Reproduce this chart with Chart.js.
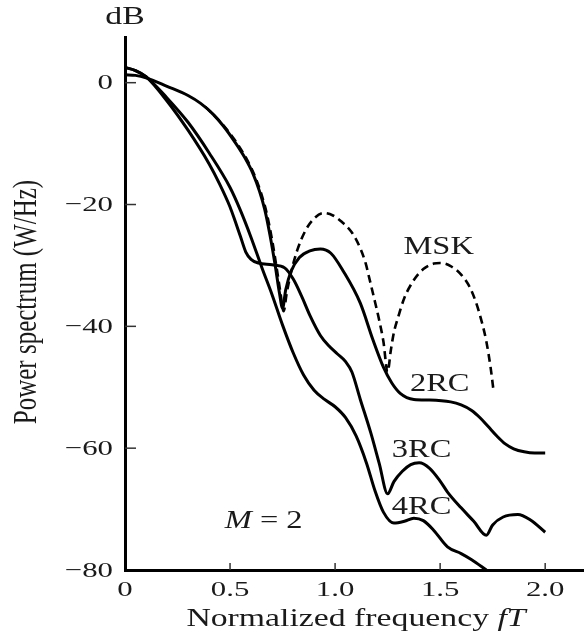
<!DOCTYPE html>
<html>
<head>
<meta charset="utf-8">
<script src="https://cdn.jsdelivr.net/npm/chart.js@4/dist/chart.umd.min.js"></script>
<style>
  html, body { margin: 0; padding: 0; background: #fff; }
  #wrap { width: 584px; height: 635px; }
</style>
</head>
<body>
<div id="wrap"><canvas id="c" width="584" height="635"></canvas></div>
<script>
// ---------- data ----------
const xTickValues = [0, 0.5, 1.0, 1.5, 2.0];
const xTickLabels = ["0", "0.5", "1.0", "1.5", "2.0"];
const yTickValues = [0, -20, -40, -60, -80];
const yTickLabels = ["0", "\u221220", "\u221240", "\u221260", "\u221280"];

const mskX = [0.38, 0.45, 0.52, 0.58, 0.62, 0.65, 0.675, 0.70, 0.72, 0.74, 0.755, 0.77, 0.79, 0.82, 0.86, 0.90, 0.945, 0.99, 1.03, 1.08, 1.12, 1.145, 1.165, 1.19, 1.21, 1.23, 1.25,
              1.265, 1.28, 1.30, 1.33, 1.375, 1.42, 1.47, 1.50, 1.55, 1.60, 1.64, 1.67, 1.70, 1.72, 1.74, 1.755];
const mskY = [-3.9, -6.3, -9.3, -12.6, -15.5, -18.4, -21.5, -25.8, -30.0, -34.5, -37.5, -34.5, -31.2, -27.5, -24.2, -22.3, -21.4, -21.8, -22.8, -24.6, -27.2, -29.6, -32.4, -36.0, -39.0, -42.5, -47.5,
              -44.0, -41.0, -38.5, -35.3, -32.4, -30.6, -29.7, -29.6, -30.1, -31.5, -33.5, -36.0, -39.5, -42.5, -46.7, -50.8];

const rc2X = [0, 0.05, 0.10, 0.20, 0.30, 0.36, 0.42, 0.47, 0.52, 0.57, 0.61, 0.64, 0.665, 0.69, 0.715, 0.735, 0.75, 0.765, 0.79, 0.83, 0.88, 0.93, 0.98, 1.04, 1.12, 1.18, 1.23, 1.27, 1.31, 1.375, 1.45, 1.55, 1.60, 1.65, 1.69, 1.73, 1.77, 1.81, 1.85, 1.90, 1.95, 2.00];
const rc2Y = [1.3, 1.2, 0.8, -0.6, -2.1, -3.4, -5.2, -7.2, -9.6, -12.3, -15.0, -17.8, -20.8, -25.0, -30.0, -34.5, -37.0, -34.0, -31.0, -28.7, -27.6, -27.3, -28.0, -31.0, -36.2, -42.2, -46.7, -49.3, -51.0, -52.0, -52.1, -52.4, -52.9, -53.8, -55.0, -56.5, -58.0, -59.3, -60.1, -60.6, -60.8, -60.8];

const rc3X = [0, 0.05, 0.10, 0.20, 0.30, 0.40, 0.45, 0.50, 0.525, 0.55, 0.575, 0.60, 0.635, 0.70, 0.76, 0.80, 0.84, 0.88, 0.93, 0.97, 1.01, 1.05, 1.08, 1.12, 1.17, 1.21, 1.25, 1.28, 1.32, 1.36, 1.40, 1.45, 1.50, 1.535, 1.60, 1.66, 1.72, 1.75, 1.80, 1.87, 1.93, 2.00];
const rc3Y = [2.5, 2.0, 1.0, -3.0, -7.8, -13.3, -16.6, -20.4, -22.8, -25.3, -27.8, -29.0, -29.6, -29.9, -30.4, -32.2, -35.0, -38.2, -41.5, -43.2, -44.5, -45.8, -47.5, -52.0, -57.5, -62.5, -67.5, -65.5, -63.8, -62.7, -62.4, -63.3, -65.4, -67.2, -69.8, -72.0, -74.3, -72.6, -71.3, -70.9, -71.8, -73.8];

const rc4X = [0, 0.05, 0.10, 0.20, 0.30, 0.40, 0.50, 0.55, 0.60, 0.653, 0.70, 0.75, 0.80, 0.85, 0.90, 0.95, 1.00, 1.05, 1.10, 1.15, 1.19, 1.23, 1.28, 1.33, 1.375, 1.42, 1.47, 1.535, 1.60, 1.65, 1.72];
const rc4Y = [2.5, 2.0, 1.0, -2.5, -6.5, -11.5, -17.2, -21.0, -25.4, -30.5, -34.8, -39.8, -44.3, -48.0, -50.5, -52.0, -53.2, -55.0, -58.0, -62.5, -67.0, -70.5, -72.3, -72.0, -71.5, -71.9, -73.5, -76.2, -77.3, -78.3, -80.0];

const seriesNames = ["MSK", "2RC", "3RC", "4RC"];

// ---------- helpers ----------
const pts = (xs, ys) => xs.map((v, i) => ({ x: v, y: ys[i] }));
const SERIF = '"Liberation Serif", "Times New Roman", serif';

function runsWidth(ctx, runs) {
  let w = 0;
  runs.forEach(r => { ctx.font = r.font; w += ctx.measureText(r.text).width; });
  return w;
}
function drawRuns(ctx, runs, cx, cy, sx, align) {
  ctx.save();
  ctx.translate(cx, cy);
  ctx.scale(sx, 1);
  const w = runsWidth(ctx, runs);
  let start = align === 'right' ? -w : (align === 'left' ? 0 : -w / 2);
  ctx.textAlign = 'left';
  ctx.textBaseline = 'middle';
  runs.forEach(r => {
    ctx.font = r.font;
    ctx.fillText(r.text, start, 0);
    start += ctx.measureText(r.text).width;
  });
  ctx.restore();
}

const annotations = {
  id: 'annotations',
  afterDraw(chart) {
    const { ctx, scales: { x, y } } = chart;
    const left = x.left, bottom = y.bottom;
    ctx.save();
    // inner tick marks
    ctx.strokeStyle = '#333';
    ctx.lineWidth = 1.5;
    yTickValues.forEach(v => {
      if (v === -80) return;
      const py = y.getPixelForValue(v);
      ctx.beginPath(); ctx.moveTo(left, py); ctx.lineTo(left + 11, py); ctx.stroke();
    });
    xTickValues.forEach(v => {
      if (v === 0) return;
      const px = x.getPixelForValue(v);
      ctx.beginPath(); ctx.moveTo(px, bottom); ctx.lineTo(px, bottom - 7); ctx.stroke();
    });

    ctx.fillStyle = '#1a1a1a';
    const tickFont = '22px ' + SERIF;
    const sx = 1.4;
    yTickValues.forEach((v, i) => {
      drawRuns(ctx, [{ text: yTickLabels[i], font: tickFont }], left - 12, y.getPixelForValue(v) + 1, sx, 'right');
    });
    xTickValues.forEach((v, i) => {
      drawRuns(ctx, [{ text: xTickLabels[i], font: tickFont }], x.getPixelForValue(v), bottom + 20, sx, 'center');
    });

    const f = '25px ' + SERIF, fi = 'italic 25px ' + SERIF;
    drawRuns(ctx, [{ text: 'Normalized frequency ', font: f }, { text: 'fT', font: fi }], 356, 619, 1.35, 'center');
    drawRuns(ctx, [{ text: 'dB', font: f }], 125, 17, 1.35, 'center');
    ctx.save();
    ctx.translate(27, 302);
    ctx.scale(1.35, 1);
    ctx.rotate(-Math.PI / 2);
    ctx.font = f; ctx.textAlign = 'center'; ctx.textBaseline = 'middle';
    ctx.fillText('Power spectrum (W/Hz)', 0, 0);
    ctx.restore();

    const lab = (txt, vx, vy) => drawRuns(ctx, [{ text: txt, font: f }], x.getPixelForValue(vx), y.getPixelForValue(vy), 1.3, 'center');
    lab(seriesNames[0], 1.493, -27.0);
    lab(seriesNames[1], 1.498, -49.5);
    lab(seriesNames[2], 1.412, -60.3);
    lab(seriesNames[3], 1.412, -69.8);
    drawRuns(ctx, [{ text: 'M', font: fi }, { text: ' = 2', font: f }], x.getPixelForValue(0.66), y.getPixelForValue(-72.1), 1.3, 'center');
    ctx.restore();
  }
};

const solid = {
  borderColor: '#000',
  borderWidth: 3,
  pointRadius: 0,
  fill: false,
  cubicInterpolationMode: 'monotone'
};

new Chart(document.getElementById('c'), {
  type: 'line',
  data: {
    datasets: [
      Object.assign({}, solid, { label: seriesNames[0], data: pts(mskX, mskY), borderDash: [8, 5], borderWidth: 2.6 }),
      Object.assign({}, solid, { label: seriesNames[1], data: pts(rc2X, rc2Y) }),
      Object.assign({}, solid, { label: seriesNames[2], data: pts(rc3X, rc3Y) }),
      Object.assign({}, solid, { label: seriesNames[3], data: pts(rc4X, rc4Y) })
    ]
  },
  options: {
    responsive: false,
    devicePixelRatio: 1,
    animation: false,
    layout: { padding: { top: 37, left: 0, right: 1, bottom: 0 } },
    plugins: { legend: { display: false }, tooltip: { enabled: false } },
    scales: {
      x: {
        type: 'linear', min: 0, max: 2.18,
        ticks: { display: false },
        grid: { display: false },
        border: { display: true, width: 3, color: '#000' },
        afterFit: s => { s.height = 65; }
      },
      y: {
        type: 'linear', min: -80, max: 7.5,
        ticks: { display: false },
        grid: { display: false },
        border: { display: true, width: 3, color: '#000' },
        afterFit: s => { s.width = 125; }
      }
    }
  },
  plugins: [annotations]
});
</script>
</body>
</html>
